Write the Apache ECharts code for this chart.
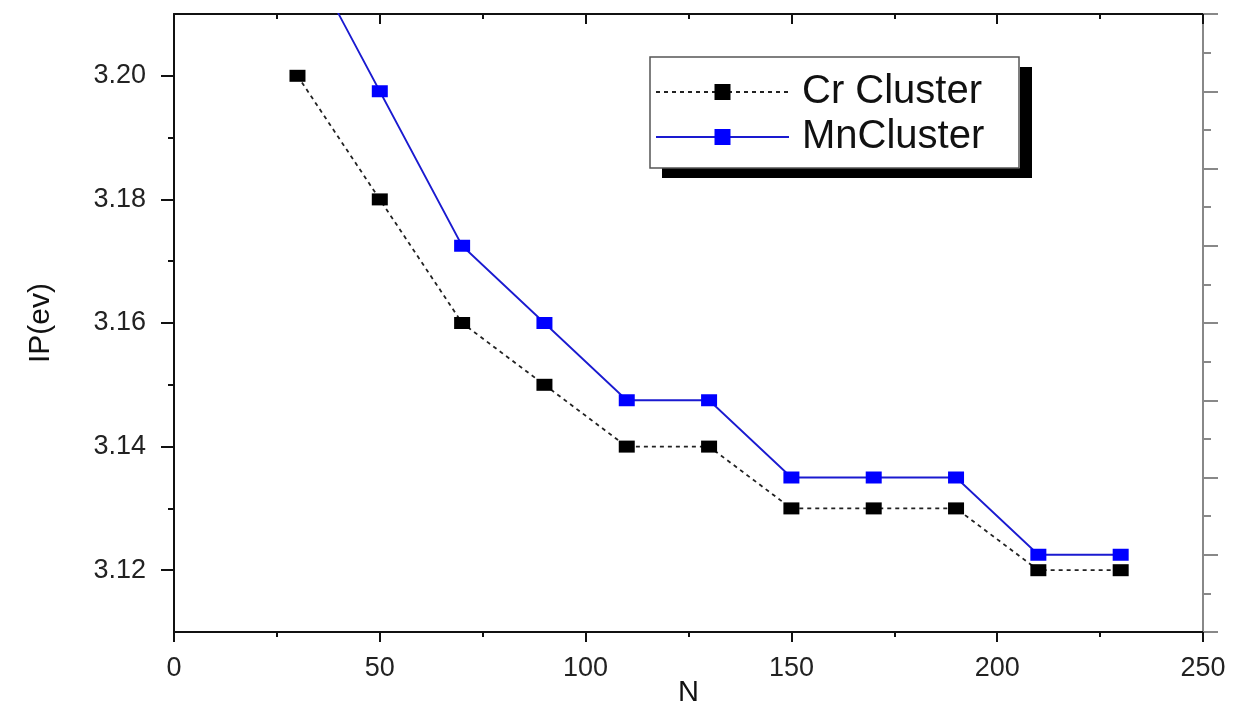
<!DOCTYPE html>
<html>
<head>
<meta charset="utf-8">
<script src="https://cdn.jsdelivr.net/npm/echarts@6/dist/echarts.min.js"></script>
<style>
html,body{margin:0;padding:0;background:#fff;}
#chart{width:1234px;height:708px;}
</style>
</head>
<body>
<div id="chart"></div>
<script>
// ---- data ----
const nValues = [30, 50, 70, 90, 110, 130, 150, 170, 190, 210, 230];
const crValues = [3.20, 3.18, 3.16, 3.15, 3.14, 3.14, 3.13, 3.13, 3.13, 3.12, 3.12];
const mnValues = [3.2225, 3.1975, 3.1725, 3.16, 3.1475, 3.1475, 3.135, 3.135, 3.135, 3.1225, 3.1225];
const seriesNames = ['Cr Cluster', 'MnCluster'];
const yTickLabels = [3.12, 3.14, 3.16, 3.18, 3.20];
const yMinorTicks = [3.13, 3.15, 3.17, 3.19];

const FONT = '"Liberation Sans", Arial, sans-serif';
const chart = echarts.init(document.getElementById('chart'));

const pairs = (vals) => nValues.map((n, i) => [n, vals[i]]);

// legend box geometry
const LEG = { left: 650, top: 57, width: 369, height: 111 };

chart.setOption({
  animation: false,
  backgroundColor: '#ffffff',
  grid: { left: 174, right: 31, top: 14, bottom: 76, containLabel: false, outerBoundsMode: 'none' },
  legend: {
    orient: 'vertical',
    left: LEG.left,
    top: LEG.top,
    data: seriesNames,
    itemWidth: 133,
    itemHeight: 20,
    itemGap: 5,
    padding: [15, 12, 11, 5],
    backgroundColor: '#ffffff',
    borderWidth: 0,
    shadowColor: '#000',
    shadowBlur: 0,
    shadowOffsetX: 12,
    shadowOffsetY: 10,
    textStyle: {
      fontFamily: FONT,
      fontSize: 40,
      color: '#111',
      lineHeight: 40,
      padding: [0, 0, 0, 8],
      width: 206
    }
  },
  graphic: [
    {
      type: 'rect',
      shape: { x: LEG.left, y: LEG.top, width: LEG.width, height: LEG.height },
      style: { fill: 'none', stroke: '#555', lineWidth: 1.5 },
      silent: true,
      z: 100
    }
  ],
  xAxis: [
    {
      type: 'value',
      position: 'bottom',
      min: 0, max: 250, interval: 50,
      name: 'N',
      nameLocation: 'middle',
      nameGap: 46,
      nameMoveOverlap: false,
      nameTextStyle: { fontFamily: FONT, fontSize: 29, color: '#111' },
      axisLine: { show: true, onZero: false, lineStyle: { color: '#111', width: 2 } },
      axisTick: { show: true, inside: false, length: 10, lineStyle: { color: '#111', width: 2 } },
      minorTick: { show: true, splitNumber: 2, length: 5, lineStyle: { color: '#111', width: 2 } },
      axisLabel: { show: true, margin: 23, fontFamily: FONT, fontSize: 27, color: '#222' },
      splitLine: { show: false },
      minorSplitLine: { show: false }
    },
    {
      type: 'value',
      position: 'top',
      min: 0, max: 250, interval: 50,
      axisLine: { show: true, onZero: false, lineStyle: { color: '#111', width: 2 } },
      axisTick: { show: true, inside: true, length: 10, lineStyle: { color: '#111', width: 2 } },
      minorTick: { show: true, splitNumber: 2, length: 5, lineStyle: { color: '#111', width: 2 } },
      axisLabel: { show: false },
      splitLine: { show: false }
    }
  ],
  yAxis: [
    {
      type: 'value',
      position: 'left',
      min: 3.11, max: 3.21,
      name: 'IP(ev)',
      nameLocation: 'middle',
      nameGap: 118,
      nameMoveOverlap: false,
      nameRotate: 90,
      nameTextStyle: { fontFamily: FONT, fontSize: 30, color: '#111' },
      axisLine: { show: true, onZero: false, lineStyle: { color: '#111', width: 2 } },
      axisTick: { show: true, inside: false, length: 13, customValues: yTickLabels, lineStyle: { color: '#111', width: 2 } },
      axisLabel: {
        show: true, margin: 28, customValues: yTickLabels,
        fontFamily: FONT, fontSize: 27, color: '#222',
        formatter: (v) => Number(v).toFixed(2)
      },
      splitLine: { show: false }
    },
    {
      type: 'value',
      position: 'left',
      min: 3.11, max: 3.21,
      axisLine: { show: false },
      axisTick: { show: true, inside: false, length: 6, customValues: yMinorTicks, lineStyle: { color: '#111', width: 2 } },
      axisLabel: { show: false, customValues: yMinorTicks },
      splitLine: { show: false }
    },
    {
      type: 'value',
      position: 'right',
      min: 0, max: 16, interval: 2,
      axisLine: { show: true, onZero: false, lineStyle: { color: '#888', width: 2 } },
      axisTick: { show: true, inside: false, length: 15, lineStyle: { color: '#888', width: 2 } },
      minorTick: { show: true, splitNumber: 2, length: 8, lineStyle: { color: '#888', width: 2 } },
      axisLabel: { show: false },
      splitLine: { show: false }
    }
  ],
  series: [
    {
      name: seriesNames[0],
      type: 'line',
      xAxisIndex: 0, yAxisIndex: 0,
      data: pairs(crValues),
      clip: true,
      symbol: 'rect',
      symbolSize: [16, 12],
      itemStyle: { color: '#000' },
      lineStyle: { color: '#222', width: 1.8, type: [4, 4] },
      z: 3
    },
    {
      name: seriesNames[1],
      type: 'line',
      xAxisIndex: 0, yAxisIndex: 0,
      data: pairs(mnValues),
      clip: true,
      symbol: 'rect',
      symbolSize: [16, 12],
      itemStyle: { color: '#0000ff' },
      lineStyle: { color: '#1a1ad0', width: 1.8 },
      z: 4
    }
  ]
});
</script>
</body>
</html>
